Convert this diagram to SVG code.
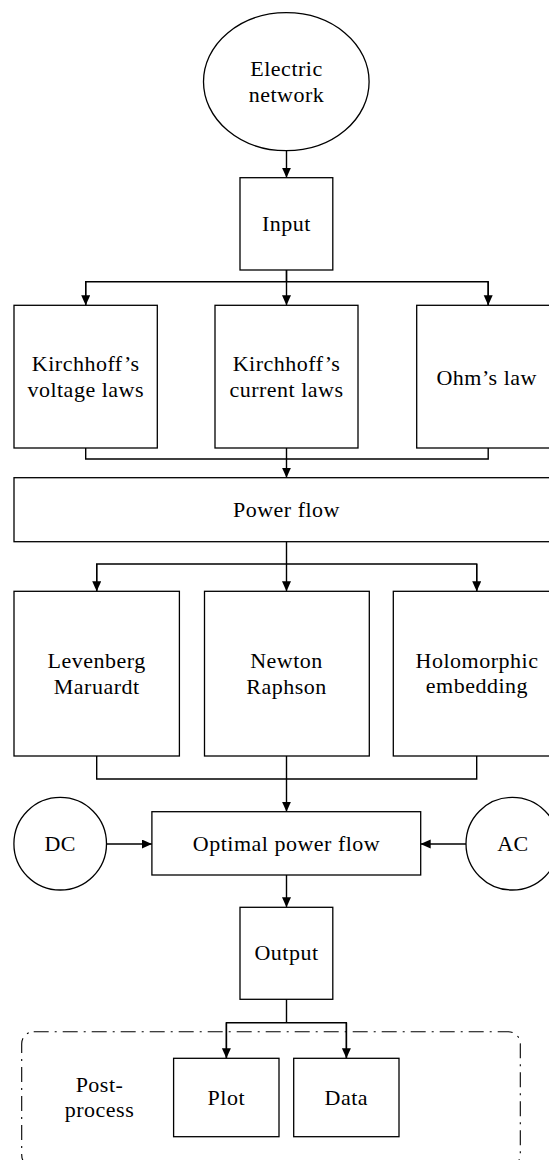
<svg xmlns="http://www.w3.org/2000/svg" width="549" height="1160" viewBox="0 0 549 1160">
<style>
  .box { fill: #ffffff; stroke: #000000; stroke-width: 1.3; }
  .lbl { font-family: "Liberation Serif", "Times New Roman", serif; font-size: 22px; letter-spacing: 0.5px; fill: #000000; text-anchor: middle; }
  .conn { fill: none; stroke: #000000; stroke-width: 1.4; }
  .group { fill: none; stroke: #000000; stroke-width: 1.1; stroke-dasharray: 15 6 2 6; }
</style>
<defs>
  <marker id="arr" markerUnits="userSpaceOnUse" markerWidth="10" markerHeight="10" refX="10" refY="4.5" orient="auto">
    <path d="M0,0 L10,4.5 L0,9 Z" fill="#000000"/>
  </marker>
</defs>
<rect width="549" height="1160" fill="#ffffff"/>

<g id="postprocess-group">
  <rect class="group" x="21.7" y="1031.7" width="498.6" height="135" rx="12" ry="12"/>
  <text class="lbl" x="99.5" y="1091.7">Post-</text>
  <text class="lbl" x="99.5" y="1116.7">process</text>
</g>

<g id="connectors">
  <line class="conn" x1="286.5" y1="150.7" x2="286.5" y2="177.7" marker-end="url(#arr)"/>
  <path class="conn" d="M286.5,270 V281.7 M85.7,305.3 V281.7 H488.2 V305.3"/>
  <line class="conn" x1="85.7" y1="281.7" x2="85.7" y2="305.3" marker-end="url(#arr)"/>
  <line class="conn" x1="286.5" y1="270" x2="286.5" y2="305.3" marker-end="url(#arr)"/>
  <line class="conn" x1="488.2" y1="281.7" x2="488.2" y2="305.3" marker-end="url(#arr)"/>
  <path class="conn" d="M85.7,448 V459 H488.2 V448"/>
  <line class="conn" x1="286.5" y1="448" x2="286.5" y2="477.7" marker-end="url(#arr)"/>
  <path class="conn" d="M96.7,591.3 V564 H476.7 V591.3"/>
  <line class="conn" x1="96.7" y1="564" x2="96.7" y2="591.3" marker-end="url(#arr)"/>
  <line class="conn" x1="286.5" y1="541.7" x2="286.5" y2="591.3" marker-end="url(#arr)"/>
  <line class="conn" x1="476.7" y1="564" x2="476.7" y2="591.3" marker-end="url(#arr)"/>
  <path class="conn" d="M96.7,756 V779 H476.7 V756"/>
  <line class="conn" x1="286.5" y1="756" x2="286.5" y2="811.7" marker-end="url(#arr)"/>
  <line class="conn" x1="106.5" y1="844" x2="151.9" y2="844" marker-end="url(#arr)"/>
  <line class="conn" x1="466" y1="844" x2="420.7" y2="844" marker-end="url(#arr)"/>
  <line class="conn" x1="286.5" y1="875" x2="286.5" y2="907.3" marker-end="url(#arr)"/>
  <path class="conn" d="M286.5,999.3 V1022.7 M226.4,1058.3 V1022.7 H346.4 V1058.3"/>
  <line class="conn" x1="226.4" y1="1022.7" x2="226.4" y2="1058.3" marker-end="url(#arr)"/>
  <line class="conn" x1="346.4" y1="1022.7" x2="346.4" y2="1058.3" marker-end="url(#arr)"/>
</g>

<g id="electric-network">
  <ellipse class="box" cx="286.3" cy="81.7" rx="82.8" ry="69"/>
  <text class="lbl" x="286.5" y="76">Electric</text>
  <text class="lbl" x="286.5" y="101.7">network</text>
</g>

<g id="input">
  <rect class="box" x="240" y="177.7" width="92.8" height="92.3"/>
  <text class="lbl" x="286.5" y="231">Input</text>
</g>

<g id="kvl">
  <rect class="box" x="14" y="305.3" width="143.3" height="142.7"/>
  <text class="lbl" x="85.7" y="370.7">Kirchhoff’s</text>
  <text class="lbl" x="85.7" y="397.3">voltage laws</text>
</g>

<g id="kcl">
  <rect class="box" x="215" y="305.3" width="143" height="142.7"/>
  <text class="lbl" x="286.5" y="370.7">Kirchhoff’s</text>
  <text class="lbl" x="286.5" y="397.3">current laws</text>
</g>

<g id="ohm">
  <rect class="box" x="416.7" y="305.3" width="143" height="142.7"/>
  <text class="lbl" x="486.7" y="385">Ohm’s law</text>
</g>

<g id="power-flow">
  <rect class="box" x="14" y="477.7" width="545" height="64"/>
  <text class="lbl" x="286.5" y="516.7">Power flow</text>
</g>

<g id="levenberg">
  <rect class="box" x="14" y="591.3" width="165.4" height="164.7"/>
  <text class="lbl" x="96.7" y="668.3">Levenberg</text>
  <text class="lbl" x="96.7" y="694.3">Maruardt</text>
</g>

<g id="newton">
  <rect class="box" x="204.5" y="591.3" width="164.8" height="164.7"/>
  <text class="lbl" x="286.5" y="668.3">Newton</text>
  <text class="lbl" x="286.5" y="694.3">Raphson</text>
</g>

<g id="holomorphic">
  <rect class="box" x="393.3" y="591.3" width="166.7" height="164.7"/>
  <text class="lbl" x="477" y="668.3">Holomorphic</text>
  <text class="lbl" x="477" y="693.3">embedding</text>
</g>

<g id="opf">
  <rect class="box" x="151.9" y="811.7" width="268.8" height="63.3"/>
  <text class="lbl" x="286.5" y="850.7">Optimal power flow</text>
</g>

<g id="dc">
  <circle class="box" cx="60.2" cy="843.7" r="46.3"/>
  <text class="lbl" x="60.2" y="850.7">DC</text>
</g>

<g id="ac">
  <circle class="box" cx="512.3" cy="843.7" r="46.3"/>
  <text class="lbl" x="513" y="850.7">AC</text>
</g>

<g id="output">
  <rect class="box" x="240" y="907.3" width="92.8" height="92"/>
  <text class="lbl" x="286.5" y="960">Output</text>
</g>

<g id="plot">
  <rect class="box" x="173.6" y="1058.3" width="105.4" height="78.4"/>
  <text class="lbl" x="226.3" y="1105">Plot</text>
</g>

<g id="data">
  <rect class="box" x="293.7" y="1058.3" width="105.3" height="78.4"/>
  <text class="lbl" x="346.3" y="1105">Data</text>
</g>
</svg>
